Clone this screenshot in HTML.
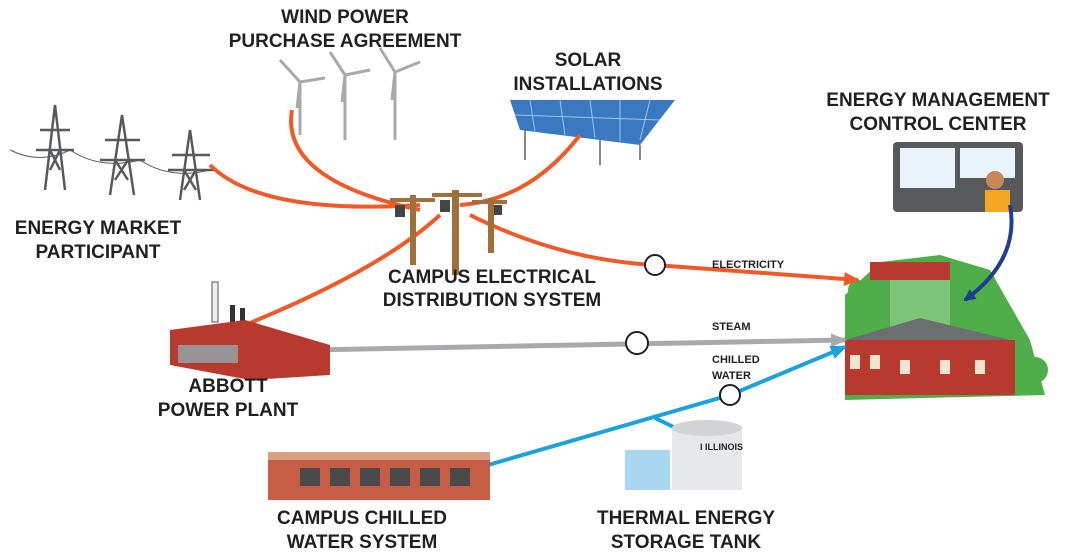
<!DOCTYPE html>
<html><head><meta charset="utf-8"><style>
html,body{margin:0;padding:0;background:#fff;}
svg{display:block;}
.l{font-family:"Liberation Sans",sans-serif;font-weight:bold;font-size:19px;fill:#231f20;text-anchor:middle;}
.s{font-family:"Liberation Sans",sans-serif;font-weight:bold;font-size:11px;fill:#231f20;}
</style></head><body>
<svg width="1080" height="554" viewBox="0 0 1080 554" xmlns="http://www.w3.org/2000/svg">
<defs>
<marker id="ao" markerUnits="userSpaceOnUse" markerWidth="16" markerHeight="16" refX="14" refY="8" orient="auto"><path d="M0,1 L16,8 L0,15 z" fill="#f05a28"/></marker>
<marker id="ag" markerUnits="userSpaceOnUse" markerWidth="16" markerHeight="16" refX="14" refY="8" orient="auto"><path d="M0,1 L16,8 L0,15 z" fill="#a7a9ac"/></marker>
<marker id="ab" markerUnits="userSpaceOnUse" markerWidth="16" markerHeight="16" refX="14" refY="8" orient="auto"><path d="M0,1 L16,8 L0,15 z" fill="#1ba1dc"/></marker>
<marker id="an" markerUnits="userSpaceOnUse" markerWidth="12" markerHeight="12" refX="10" refY="6" orient="auto"><path d="M0,0 L12,6 L0,12 z" fill="#1f3f8f"/></marker>
</defs>
<!-- campus -->
<polygon points="845,295 880,262 940,255 990,270 1030,340 1045,395 845,400" fill="#4fae4a"/>
<rect x="870" y="262" width="80" height="18" fill="#b83a2e"/>
<rect x="890" y="280" width="60" height="60" fill="#7cc576"/>
<rect x="845" y="340" width="170" height="55" fill="#b83a2e"/>
<polygon points="845,340 920,318 1010,340" fill="#6d6e71"/>
<g fill="#f1e5d0"><rect x="850" y="355" width="10" height="14"/><rect x="870" y="355" width="10" height="14"/><rect x="900" y="360" width="10" height="14"/><rect x="940" y="360" width="10" height="14"/><rect x="975" y="360" width="10" height="14"/></g>
<circle cx="1035" cy="370" r="13" fill="#4fae4a"/><circle cx="858" cy="290" r="10" fill="#4fae4a"/>
<!-- towers -->
<g stroke="#58595b" stroke-width="2.5" fill="none">
<path d="M45,190 L55,105 L65,190 M40,130 L70,130 M36,150 L74,150 M50,150 L60,170 M60,150 L50,170"/>
<path d="M110,195 L122,115 L134,195 M105,140 L140,140 M100,160 L145,160 M115,160 L128,180 M128,160 L115,180"/>
<path d="M180,200 L190,130 L200,200 M172,155 L210,155 M168,170 L214,170 M184,170 L196,190 M196,170 L184,190"/>
<path d="M10,150 Q40,165 70,150 Q100,170 140,160 Q170,180 210,170" stroke-width="1"/>
</g>
<!-- wind turbines -->
<g stroke="#a7a9ac" stroke-width="3" fill="none">
<path d="M300,82 L300,135 M300,82 L280,60 M300,82 L325,78 M300,82 L297,108"/>
<path d="M345,75 L345,140 M345,75 L330,52 M345,75 L370,70 M345,75 L342,102"/>
<path d="M395,72 L395,140 M395,72 L380,48 M395,72 L420,62 M395,72 L392,100"/>
</g>
<!-- solar -->
<polygon points="510,100 675,100 640,145 520,130" fill="#3a78c0"/>
<g stroke="#9cc6ec" stroke-width="1"><line x1="530" y1="100" x2="535" y2="132"/><line x1="560" y1="100" x2="565" y2="135"/><line x1="590" y1="100" x2="595" y2="138"/><line x1="620" y1="100" x2="620" y2="141"/><line x1="650" y1="100" x2="640" y2="140"/><line x1="515" y1="115" x2="660" y2="120"/></g>
<g stroke="#888" stroke-width="2"><line x1="525" y1="130" x2="525" y2="160"/><line x1="600" y1="140" x2="600" y2="165"/><line x1="640" y1="145" x2="640" y2="160"/></g>
<!-- orange lines -->
<g stroke="#f05a28" stroke-width="4" fill="none">
<path d="M210,165 Q260,215 420,205"/>
<path d="M292,110 Q280,180 420,210"/>
<path d="M580,135 Q530,200 460,205"/>
<path d="M245,325 Q380,270 440,215"/>
<path d="M470,215 Q560,260 655,265 L858,280" marker-end="url(#ao)"/>
</g>
<circle cx="655" cy="265" r="10" fill="#fff" stroke="#231f20" stroke-width="2"/>
<!-- poles -->
<g fill="#a0703c"><rect x="410" y="195" width="6" height="70"/><rect x="452" y="190" width="7" height="85"/><rect x="488" y="198" width="6" height="55"/>
<rect x="390" y="198" width="45" height="4"/><rect x="432" y="193" width="50" height="4"/><rect x="472" y="200" width="35" height="4"/></g>
<g fill="#444"><rect x="395" y="205" width="10" height="12"/><rect x="440" y="200" width="10" height="12"/><rect x="494" y="205" width="8" height="10"/></g>
<!-- gray line -->
<path d="M310,350 L845,340" stroke="#a7a9ac" stroke-width="5" fill="none" marker-end="url(#ag)"/>
<circle cx="637" cy="343" r="11" fill="#fff" stroke="#231f20" stroke-width="2"/>
<!-- blue line -->
<path d="M488,465 L730,395 L845,347" stroke="#1ba1dc" stroke-width="4" fill="none" marker-end="url(#ab)"/>
<path d="M655,418 L690,435" stroke="#1ba1dc" stroke-width="4"/>
<circle cx="730" cy="395" r="10" fill="#fff" stroke="#231f20" stroke-width="2"/>
<!-- power plant -->
<rect x="212" y="282" width="6" height="40" fill="#eee" stroke="#555"/>
<rect x="230" y="305" width="5" height="20" fill="#333"/><rect x="240" y="308" width="5" height="20" fill="#333"/>
<polygon points="170,330 245,320 330,345 330,375 250,380 170,365" fill="#b83a2e"/>
<rect x="178" y="345" width="60" height="18" fill="#7fd0d8" opacity="0.6"/>
<!-- chilled water building -->
<rect x="268" y="458" width="222" height="42" fill="#c75d44"/>
<rect x="268" y="452" width="222" height="8" fill="#d8a080"/>
<g fill="#4a4a4a"><rect x="300" y="468" width="20" height="18"/><rect x="330" y="468" width="20" height="18"/><rect x="360" y="468" width="20" height="18"/><rect x="390" y="468" width="20" height="18"/><rect x="420" y="468" width="20" height="18"/><rect x="450" y="468" width="20" height="18"/></g>
<!-- tank -->
<rect x="625" y="450" width="45" height="40" fill="#a9d7ef"/>
<rect x="672" y="428" width="70" height="62" fill="#e6e7e8"/>
<ellipse cx="707" cy="428" rx="35" ry="8" fill="#d1d3d4"/>
<text x="700" y="450" class="s" style="font-size:9px">I ILLINOIS</text>
<!-- control center -->
<rect x="893" y="142" width="130" height="70" rx="4" fill="#58595b"/>
<rect x="900" y="148" width="55" height="40" fill="#e8f3fa"/><rect x="960" y="148" width="55" height="30" fill="#e8f3fa"/>
<circle cx="995" cy="180" r="9" fill="#c8865a"/><rect x="985" y="190" width="25" height="22" fill="#f5a623"/>
<path d="M1010,205 Q1020,260 965,300" stroke="#1f3f8f" stroke-width="4" fill="none" marker-end="url(#an)"/>
<!-- labels -->
<text class="l" x="345" y="23">WIND POWER</text><text class="l" x="345" y="47">PURCHASE AGREEMENT</text>
<text class="l" x="588" y="66">SOLAR</text><text class="l" x="588" y="90">INSTALLATIONS</text>
<text class="l" x="938" y="106">ENERGY MANAGEMENT</text><text class="l" x="938" y="130">CONTROL CENTER</text>
<text class="l" x="98" y="234">ENERGY MARKET</text><text class="l" x="98" y="258">PARTICIPANT</text>
<text class="l" x="492" y="283">CAMPUS ELECTRICAL</text><text class="l" x="492" y="306">DISTRIBUTION SYSTEM</text>
<text class="l" x="228" y="392">ABBOTT</text><text class="l" x="228" y="416">POWER PLANT</text>
<text class="l" x="362" y="524">CAMPUS CHILLED</text><text class="l" x="362" y="548">WATER SYSTEM</text>
<text class="l" x="686" y="524">THERMAL ENERGY</text><text class="l" x="686" y="548">STORAGE TANK</text>
<text class="s" x="712" y="268">ELECTRICITY</text>
<text class="s" x="712" y="330">STEAM</text>
<text class="s" x="712" y="363">CHILLED</text><text class="s" x="712" y="379">WATER</text>
</svg>
</body></html>
